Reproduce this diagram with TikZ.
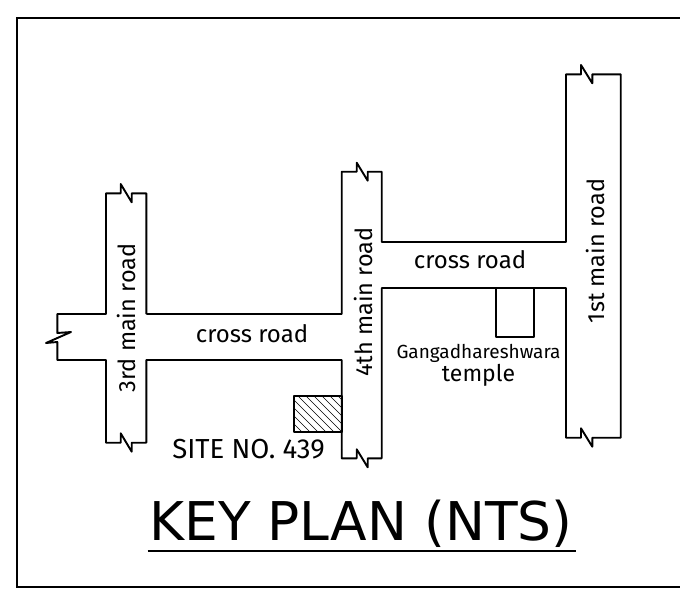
\documentclass[tikz,border=0pt]{standalone}
\usepackage{fontspec}
\setmainfont{DejaVu Sans}
\newfontfamily\roadfont{Fira Sans}
\tikzset{
  road/.style={draw=black,line width=1.9pt,line join=round},
  frameline/.style={draw=black,line width=1.9pt},
  lbl/.style={inner sep=0pt,font=\roadfont\fontsize{23.5}{24}\selectfont},
  hatchline/.style={draw=black,line width=0.7pt},
}
\begin{document}
\begin{tikzpicture}[x=1pt,y=-1pt]
\useasboundingbox (0,0) rectangle (680,589);
\draw[frameline] (680,18) -- (17,18) -- (17,587) -- (680,587);
% roads
\draw[road] (146.3,314) -- (146.3,193.3) -- (131.7,193.3) -- (131.7,202.3) -- (120.7,184) -- (120.7,193.3) -- (106,193.3) -- (106,314) -- (57.3,314) -- (57.3,333) -- (71,332) -- (46,343) -- (57.3,342) -- (57.3,360) -- (106,360) -- (106,442.7) -- (120.7,442.7) -- (120.7,433.3) -- (131.7,451.7) -- (131.7,442.7) -- (146.3,442.7) -- (146.3,360) -- (341.7,360) -- (341.7,449);
\draw[road] (146.3,314) -- (341.7,314) -- (341.7,171.7) -- (356.7,171.7) -- (356.7,162.7) -- (367.7,180.7) -- (367.7,171.7) -- (381.7,171.7) -- (381.7,242) -- (566,242) -- (566,74.3) -- (581,74.3) -- (581,65) -- (592.3,83.3) -- (592.3,74.3) -- (620.7,74.3) -- (620.7,437.7) -- (592.3,437.7) -- (592.3,446.7) -- (581,428.3) -- (581,437.7) -- (566,437.7) -- (566,288) -- (381.7,288) -- (381.7,458.3) -- (367.7,458.3) -- (367.7,467.3) -- (356.7,449.3) -- (356.7,458.3) -- (341.7,458.3) -- (341.7,449);
% temple
\draw[road] (496.3,288) -- (496.3,337) -- (533.7,337) -- (533.7,288);
% site
\begin{scope}
\clip (294,396) rectangle (341.7,432);
\foreach \d in {-36,-28,...,48} \draw[hatchline] (294+\d,396) -- (294+\d+36,432);
\end{scope}
\draw[road] (294,396) rectangle (341.7,432);
% labels
\node[lbl,rotate=90] (r3) at (126,318) {3rd main road};
\node[lbl,rotate=90] (r4) at (363,302) {4th main road};
\node[lbl,rotate=90] (r1) at (595.5,251) {1st main road};
\node[lbl,font=\roadfont\fontsize{24}{24}\selectfont] (c1) at (252,334) {cross road};
\node[lbl,font=\roadfont\fontsize{24}{24}\selectfont] (c2) at (470,260) {cross road};
\node[lbl,font=\roadfont\fontsize{19}{19}\selectfont] (g) at (478.5,353) {Gangadhareshwara};
\node[lbl,font=\roadfont\fontsize{23}{23}\selectfont] (t) at (478.5,375) {temple};
\node[lbl,font=\roadfont\fontsize{27.5}{27}\selectfont] (s) at (248.5,449) {SITE NO. 439};
\node[inner sep=0pt,anchor=base,font=\fontsize{53.4}{53}\selectfont] (title) at (361,540) {KEY PLAN (NTS)};
\draw[black,line width=2pt] (147.5,550.5) -- (576,550.5);
\end{tikzpicture}
\end{document}
